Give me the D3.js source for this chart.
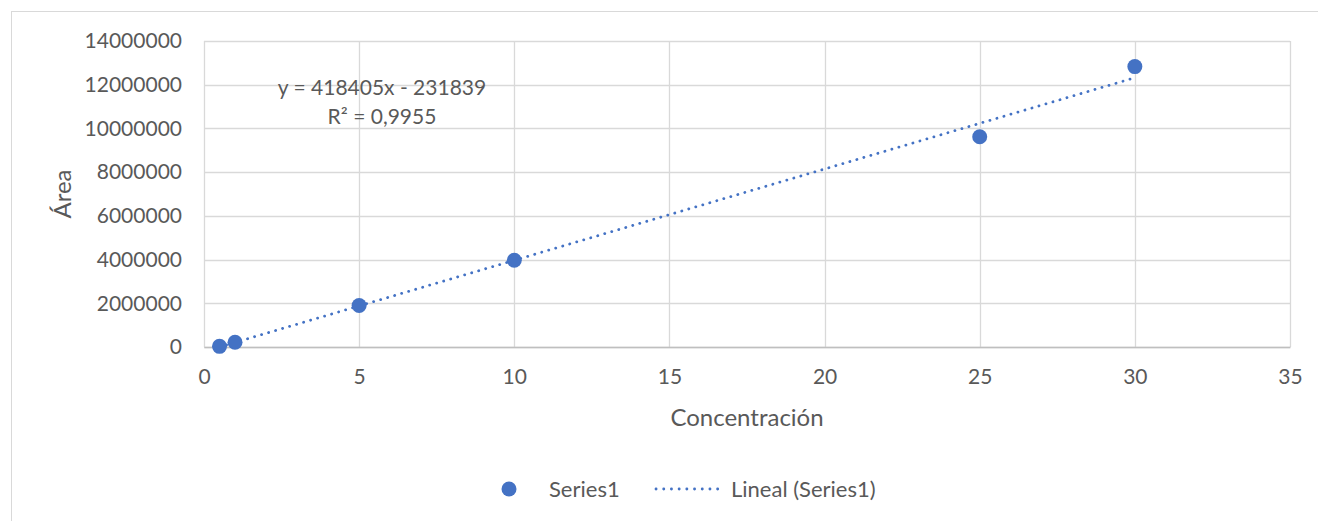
<!DOCTYPE html>
<html><head><meta charset="utf-8">
<script src="https://cdn.jsdelivr.net/npm/d3@7"></script>
<style>
html,body{margin:0;padding:0;background:#fff;}
svg{display:block;}
text{font-family:Lato,"Open Sans",sans-serif;fill:#595959;}
</style></head>
<body>
<svg id="c" width="1318" height="521"></svg>
<script>
const concentration = [0.5, 1, 5, 10, 25, 30];
const area = [30000, 220000, 1900000, 3970000, 9620000, 12830000];
const xTicks = [0, 5, 10, 15, 20, 25, 30, 35];
const yTicks = [0, 2000000, 4000000, 6000000, 8000000, 10000000, 12000000, 14000000];
const slope = 418405, intercept = -231839;
const equationLines = ["y = 418405x - 231839", "R² = 0,9955"];
const seriesName = "Series1", trendName = "Lineal (Series1)";
const xTitle = "Concentración", yTitle = "Área";

const svg = d3.select("#c");
const color = "#4472C4";
const L = 204, R = 1290, T = 41, B = 347;
const x = d3.scaleLinear().domain([0, 35]).range([L, R]);
const y = d3.scaleLinear().domain([0, 14000000]).range([B, T]);

svg.append("rect").attr("x", 11.5).attr("y", 11.5).attr("width", 1320).attr("height", 520)
  .attr("fill", "#fff").attr("stroke", "#d9d9d9").attr("stroke-width", 1);

// gridlines
svg.append("g").selectAll("line.h").data(yTicks).join("line")
  .attr("x1", L).attr("x2", R).attr("y1", d => Math.round(y(d)) + 0.5).attr("y2", d => Math.round(y(d)) + 0.5)
  .attr("stroke", "#d9d9d9").attr("stroke-width", 1.3);
svg.append("g").selectAll("line.v").data(xTicks).join("line")
  .attr("y1", T).attr("y2", B).attr("x1", d => Math.round(x(d)) + 0.5).attr("x2", d => Math.round(x(d)) + 0.5)
  .attr("stroke", "#d9d9d9").attr("stroke-width", 1.3);

// axes
const xAxis = svg.append("g").attr("transform", `translate(0,${B})`)
  .call(d3.axisBottom(x).tickValues(xTicks).tickSize(0).tickPadding(22));
xAxis.select(".domain").attr("stroke", "#bfbfbf").attr("stroke-width", 1.3);
xAxis.selectAll("text").style("font-size", "21px").attr("fill", "#595959").attr("font-family", "Lato");

const yAxis = svg.append("g").attr("transform", `translate(${L},0)`)
  .call(d3.axisLeft(y).tickValues(yTicks).tickSize(0).tickPadding(22).tickFormat(d3.format("d")));
yAxis.select(".domain").remove();
yAxis.selectAll("text").style("font-size", "21px").attr("fill", "#595959").attr("font-family", "Lato");

// trendline
const x0 = d3.min(concentration), x1 = d3.max(concentration);
svg.append("line")
  .attr("x1", x(x0)).attr("y1", Math.min(y(slope * x0 + intercept), B))
  .attr("x2", x(x1)).attr("y2", y(slope * x1 + intercept))
  .attr("stroke", color).attr("stroke-width", 2.8).attr("stroke-linecap", "round")
  .attr("stroke-dasharray", "0.1 7.2");

// points
svg.append("g").selectAll("circle").data(concentration).join("circle")
  .attr("cx", d => x(d)).attr("cy", (d, i) => y(area[i])).attr("r", 7.5).attr("fill", color);

// equation
svg.append("text").attr("x", 382).attr("y", 95).attr("text-anchor", "middle")
  .style("font-size", "21px").text(equationLines[0]);
svg.append("text").attr("x", 382).attr("y", 124).attr("text-anchor", "middle")
  .style("font-size", "21px").text(equationLines[1]);

// axis titles
svg.append("text").attr("x", 747).attr("y", 426).attr("text-anchor", "middle")
  .style("font-size", "24px").text(xTitle);
svg.append("text").attr("transform", `translate(71,${(T + B) / 2}) rotate(-90)`).attr("text-anchor", "middle")
  .style("font-size", "24px").text(yTitle);

// legend
svg.append("circle").attr("cx", 509).attr("cy", 489).attr("r", 7.5).attr("fill", color);
svg.append("text").attr("x", 549).attr("y", 497).style("font-size", "22px").text(seriesName);
svg.append("line").attr("x1", 656).attr("x2", 718).attr("y1", 489).attr("y2", 489)
  .attr("stroke", color).attr("stroke-width", 2.8).attr("stroke-linecap", "round").attr("stroke-dasharray", "0.1 7.6");
svg.append("text").attr("x", 731).attr("y", 497).style("font-size", "22px").text(trendName);
</script>
</body></html>
